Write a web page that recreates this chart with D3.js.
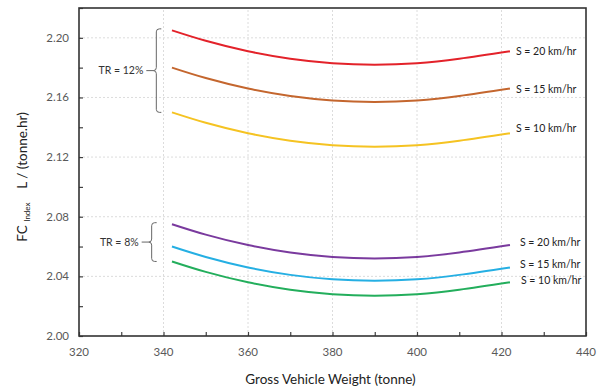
<!DOCTYPE html>
<html>
<head>
<meta charset="utf-8">
<script src="https://cdn.jsdelivr.net/npm/d3@7"></script>
<style>
  body { margin: 0; background: #fff; }
  text { font-family: Lato, "Liberation Sans", sans-serif; }
</style>
</head>
<body>
<div id="chart"></div>
<script>
var width = 603;
var height = 392;

// gross vehicle weight (tonne)
var gvw = [342, 350, 360, 370, 380, 390, 400, 410, 422];

// FC index, TR = 12%
var tr12_s20 = [2.205, 2.198, 2.191, 2.186, 2.183, 2.182, 2.183, 2.186, 2.191];
var tr12_s15 = [2.180, 2.173, 2.166, 2.161, 2.158, 2.157, 2.158, 2.161, 2.166];
var tr12_s10 = [2.150, 2.143, 2.136, 2.131, 2.128, 2.127, 2.128, 2.131, 2.136];
// FC index, TR = 8%
var tr8_s20 = [2.075, 2.068, 2.061, 2.056, 2.053, 2.052, 2.053, 2.056, 2.061];
var tr8_s15 = [2.060, 2.053, 2.046, 2.041, 2.038, 2.037, 2.038, 2.041, 2.046];
var tr8_s10 = [2.050, 2.043, 2.036, 2.031, 2.028, 2.027, 2.028, 2.031, 2.036];

var xTicks = [320, 340, 360, 380, 400, 420, 440];
var yTicks = [2.00, 2.04, 2.08, 2.12, 2.16, 2.20];

var series = [
    { values: tr12_s20, color: "#e3222a", label: "S = 20 km/hr", dx: 6, dy: 0 },
    { values: tr12_s15, color: "#c4662e", label: "S = 15 km/hr", dx: 6, dy: 0 },
    { values: tr12_s10, color: "#f5c322", label: "S = 10 km/hr", dx: 6, dy: -5 },
    { values: tr8_s20,  color: "#7a3a9e", label: "S = 20 km/hr", dx: 10, dy: -3 },
    { values: tr8_s15,  color: "#25afe3", label: "S = 15 km/hr", dx: 10, dy: -3 },
    { values: tr8_s10,  color: "#23ae5c", label: "S = 10 km/hr", dx: 11, dy: -2 }
];

var margin = { left: 79, right: 17, top: 8, bottom: 56 };

var x = d3.scaleLinear().domain([320, 440]).range([margin.left, width - margin.right]);
var y = d3.scaleLinear().domain([2.00, 2.22]).range([height - margin.bottom, margin.top]);

var svg = d3.select("#chart").append("svg")
    .attr("width", width)
    .attr("height", height);

// grid
svg.append("g").selectAll("line.gx")
    .data(xTicks.slice(1, -1))
    .enter().append("line")
    .attr("x1", d => x(d)).attr("x2", d => x(d))
    .attr("y1", y(2.00)).attr("y2", y(2.22))
    .attr("stroke", "#dcdcdc").attr("stroke-dasharray", "2,2");
svg.append("g").selectAll("line.gy")
    .data(yTicks.slice(1))
    .enter().append("line")
    .attr("x1", x(320)).attr("x2", x(440))
    .attr("y1", d => y(d)).attr("y2", d => y(d))
    .attr("stroke", "#dcdcdc").attr("stroke-dasharray", "2,2");

// axes
var xAxis = d3.axisBottom(x).tickValues(d3.range(320, 441, 10)).tickSizeInner(-4).tickSizeOuter(0).tickFormat("");
var yAxis = d3.axisLeft(y).tickValues(d3.range(2.00, 2.2201, 0.02)).tickSizeInner(-4).tickSizeOuter(0).tickFormat("");

var gx = svg.append("g").attr("transform", "translate(0," + y(2.00) + ")").call(xAxis);
var gy = svg.append("g").attr("transform", "translate(" + x(320) + ",0)").call(yAxis);
[gx, gy].forEach(g => {
    g.selectAll("line").attr("stroke", "#404040").attr("stroke-width", 1.2);
    g.select(".domain").attr("stroke", "none");
});

// frame
svg.append("rect")
    .attr("x", x(320)).attr("y", y(2.22))
    .attr("width", x(440) - x(320)).attr("height", y(2.00) - y(2.22))
    .attr("fill", "none").attr("stroke", "#333").attr("stroke-width", 1.6);

// tick labels
svg.append("g").selectAll("text")
    .data(xTicks)
    .enter().append("text")
    .attr("x", d => x(d)).attr("y", y(2.00) + 20)
    .attr("text-anchor", "middle")
    .attr("fill", "#595959").style("font-size", "11.5px")
    .text(d => d);
svg.append("g").selectAll("text")
    .data(yTicks)
    .enter().append("text")
    .attr("x", x(320) - 10).attr("y", d => y(d) + 4)
    .attr("text-anchor", "end")
    .attr("fill", "#595959").style("font-size", "11.5px")
    .text(d => d.toFixed(2));

// curves
var line = d3.line()
    .x((d, i) => x(gvw[i]))
    .y(d => y(d))
    .curve(d3.curveNatural);

svg.append("g").selectAll("path")
    .data(series)
    .enter().append("path")
    .attr("d", d => line(d.values))
    .attr("fill", "none")
    .attr("stroke", d => d.color)
    .attr("stroke-width", 2);

svg.append("g").selectAll("text")
    .data(series)
    .enter().append("text")
    .attr("x", d => x(gvw[gvw.length - 1]) + d.dx)
    .attr("y", d => y(d.values[d.values.length - 1]) + 4 + d.dy)
    .attr("fill", "#222").style("font-size", "10.5px")
    .text(d => d.label);

// brackets
function bracket(bx, top, bottom, mid, textLabel) {
    var r = 3;
    var p = d3.path();
    p.moveTo(bx + 5, top);
    p.lineTo(bx + r, top);
    p.quadraticCurveTo(bx, top, bx, top + r);
    p.lineTo(bx, mid - r);
    p.quadraticCurveTo(bx, mid, bx - r, mid);
    p.quadraticCurveTo(bx, mid, bx, mid + r);
    p.lineTo(bx, bottom - r);
    p.quadraticCurveTo(bx, bottom, bx + r, bottom);
    p.lineTo(bx + 5, bottom);
    svg.append("path").attr("d", p.toString())
        .attr("fill", "none").attr("stroke", "#666").attr("stroke-width", 1);
    svg.append("line")
        .attr("x1", bx - 10).attr("x2", bx - 3)
        .attr("y1", mid).attr("y2", mid)
        .attr("stroke", "#666").attr("stroke-width", 1);
    svg.append("text")
        .attr("x", bx - 13).attr("y", mid + 3.5)
        .attr("text-anchor", "end")
        .attr("fill", "#333").style("font-size", "10.5px")
        .text(textLabel);
}
bracket(x(338.3), y(2.206), y(2.150), y(2.178), "TR = 12%");
bracket(x(337.2), y(2.076), y(2.050), y(2.063), "TR = 8%");

// axis titles
svg.append("text")
    .attr("x", (x(320) + x(440)) / 2 - 2).attr("y", height - 8)
    .attr("text-anchor", "middle")
    .attr("fill", "#222").style("font-size", "13.5px")
    .text("Gross Vehicle Weight (tonne)");

var yt = svg.append("text")
    .attr("transform", "translate(27," + 177 + ") rotate(-90)")
    .attr("text-anchor", "middle")
    .attr("fill", "#222").style("font-size", "13.5px");
yt.append("tspan").text("FC ");
yt.append("tspan").style("font-size", "8px").attr("dy", 3).text("Index");
yt.append("tspan").attr("dy", -3).text("\u00a0\u00a0\u00a0\u00a0L / (tonne.hr)");
</script>
</body>
</html>
